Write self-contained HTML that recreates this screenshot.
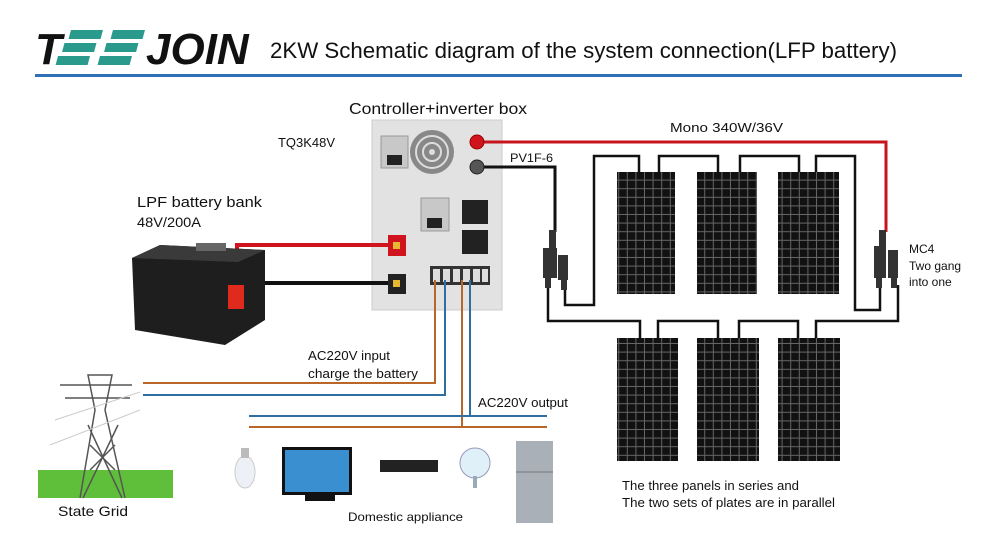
<!DOCTYPE html>
<html><head><meta charset="utf-8"><style>
body{margin:0;background:#fff}
svg{display:block}
text{font-family:"Liberation Sans",sans-serif;fill:#111}
</style></head><body>
<svg width="1000" height="544" viewBox="0 0 1000 544" xmlns="http://www.w3.org/2000/svg">
<defs>
<pattern id="cells" width="8.6" height="8.6" patternUnits="userSpaceOnUse">
<rect width="8.6" height="8.6" fill="#111"/>
<rect x="7.6" width="1" height="8.6" fill="#666"/>
<rect y="7.6" width="8.6" height="1" fill="#666"/>
</pattern>
</defs>
<!-- logo -->
<text x="35" y="64" font-size="44" font-weight="bold" font-style="italic" fill="#111">T</text>
<g transform="skewX(-15)">
<rect x="79" y="30" width="32" height="9" fill="#2a9a8c"/><rect x="76" y="43" width="32" height="9" fill="#2a9a8c"/><rect x="73" y="56" width="32" height="9" fill="#2a9a8c"/>
<rect x="121" y="30" width="32" height="9" fill="#2a9a8c"/><rect x="118" y="43" width="32" height="9" fill="#2a9a8c"/><rect x="115" y="56" width="32" height="9" fill="#2a9a8c"/>
</g>
<text x="146" y="64" font-size="44" font-weight="bold" font-style="italic" fill="#111">JOIN</text>
<text x="270" y="58" font-size="22" textLength="627" lengthAdjust="spacingAndGlyphs">2KW Schematic diagram of the system connection(LFP battery)</text>
<rect x="35" y="74" width="927" height="3" fill="#2e6fb5"/>

<!-- labels -->
<text x="349" y="114" font-size="16" textLength="178" lengthAdjust="spacingAndGlyphs">Controller+inverter box</text>
<text x="278" y="147" font-size="13" textLength="57" lengthAdjust="spacingAndGlyphs">TQ3K48V</text>
<text x="137" y="207" font-size="15" textLength="125" lengthAdjust="spacingAndGlyphs">LPF battery bank</text>
<text x="137" y="227" font-size="14" textLength="64" lengthAdjust="spacingAndGlyphs">48V/200A</text>
<text x="670" y="132" font-size="13" textLength="113" lengthAdjust="spacingAndGlyphs">Mono 340W/36V</text>
<text x="510" y="162" font-size="12" textLength="43" lengthAdjust="spacingAndGlyphs">PV1F-6</text>
<text x="909" y="253" font-size="12">MC4</text>
<text x="909" y="270" font-size="12">Two gang</text>
<text x="909" y="286" font-size="12">into one</text>
<text x="308" y="360" font-size="13" textLength="82" lengthAdjust="spacingAndGlyphs">AC220V input</text>
<text x="308" y="378" font-size="13" textLength="110" lengthAdjust="spacingAndGlyphs">charge the battery</text>
<text x="478" y="407" font-size="13" textLength="90" lengthAdjust="spacingAndGlyphs">AC220V output</text>
<text x="58" y="516" font-size="14" textLength="70" lengthAdjust="spacingAndGlyphs">State Grid</text>
<text x="348" y="521" font-size="12" textLength="115" lengthAdjust="spacingAndGlyphs">Domestic appliance</text>
<text x="622" y="490" font-size="13" textLength="177" lengthAdjust="spacingAndGlyphs">The three panels in series and</text>
<text x="622" y="507" font-size="13" textLength="213" lengthAdjust="spacingAndGlyphs">The two sets of plates are in parallel</text>

<!-- box -->
<rect x="372" y="120" width="130" height="190" fill="#e2e2e2" stroke="#ccc"/>
<rect x="381" y="136" width="27" height="32" fill="#c8c8c8" stroke="#999"/><rect x="387" y="155" width="15" height="10" fill="#222"/>
<rect x="421" y="198" width="28" height="33" fill="#c8c8c8" stroke="#999"/><rect x="427" y="218" width="15" height="10" fill="#222"/>
<circle cx="432" cy="152" r="22" fill="#888"/><circle cx="432" cy="152" r="16" fill="none" stroke="#ddd" stroke-width="2"/><circle cx="432" cy="152" r="9" fill="none" stroke="#ddd" stroke-width="2"/><circle cx="432" cy="152" r="3" fill="#ddd"/>
<rect x="462" y="200" width="26" height="24" fill="#222"/><rect x="462" y="230" width="26" height="24" fill="#222"/>
<rect x="430" y="266" width="60" height="19" fill="#333"/>
<g fill="#ddd"><rect x="433" y="269" width="7" height="13"/><rect x="443" y="269" width="7" height="13"/><rect x="453" y="269" width="7" height="13"/><rect x="463" y="269" width="7" height="13"/><rect x="473" y="269" width="7" height="13"/><rect x="482" y="269" width="6" height="13"/></g>
<!-- wires -->
<polyline points="477,142 886,142 886,232" fill="none" stroke="#c8141e" stroke-width="3"/>
<polyline points="477,167 555,167 555,232" fill="none" stroke="#111" stroke-width="3"/>
<polyline points="237,300 237,245 392,245" fill="none" stroke="#d0141e" stroke-width="4"/>
<line x1="262" y1="283" x2="392" y2="283" stroke="#111" stroke-width="4"/>
<rect x="388" y="235" width="18" height="21" fill="#d0141e"/><rect x="393" y="242" width="7" height="7" fill="#e8b830"/>
<rect x="388" y="274" width="18" height="20" fill="#222"/><rect x="393" y="280" width="7" height="7" fill="#e8b830"/>
<circle cx="477" cy="142" r="7" fill="#d0141e" stroke="#900"/>
<circle cx="477" cy="167" r="7" fill="#555" stroke="#222"/>
<!-- battery -->
<polygon points="132,258 160,245 265,250 265,320 225,345 135,330" fill="#1e1e1e"/>
<polygon points="132,258 160,245 265,250 238,262" fill="#3a3a3a"/>
<rect x="196" y="243" width="30" height="8" fill="#666"/>
<rect x="228" y="285" width="16" height="24" fill="#e02a1e"/>
<!-- AC -->
<g fill="none" stroke-width="2">
<polyline points="435,280 435,383 143,383" stroke="#b8662a"/>
<polyline points="445,280 445,395 143,395" stroke="#2f6ea0"/>
<polyline points="462,280 462,427" stroke="#b8662a"/>
<polyline points="470,280 470,416" stroke="#2f6ea0"/>
<line x1="249" y1="416" x2="547" y2="416" stroke="#2f6ea0"/>
<line x1="249" y1="427" x2="547" y2="427" stroke="#b8662a"/>
</g>
<!-- PV links -->
<g fill="none" stroke="#111" stroke-width="2.5">
<polyline points="565,285 565,305 594,305 594,156 639,156 639,172"/>
<polyline points="659,172 659,156 718,156 718,172"/>
<polyline points="740,172 740,156 799,156 799,172"/>
<polyline points="816,172 816,156 855,156 855,310 880,310 880,285"/>
<polyline points="548,285 548,321 640,321 640,338"/>
<polyline points="658,338 658,321 718,321 718,338"/>
<polyline points="739,338 739,321 798,321 798,338"/>
<polyline points="816,338 816,321 898,321 898,285"/>
</g>
<!-- MC4 -->
<g fill="#333">
<rect x="549" y="230" width="7" height="20"/><rect x="543" y="248" width="14" height="30"/><rect x="558" y="255" width="10" height="25"/>
<rect x="545" y="276" width="6" height="12"/><rect x="561" y="278" width="6" height="12"/>
<rect x="879" y="230" width="7" height="20"/><rect x="874" y="246" width="12" height="32"/><rect x="888" y="250" width="10" height="28"/>
<rect x="876" y="276" width="6" height="12"/><rect x="891" y="276" width="6" height="12"/>
</g>
<!-- panels -->
<rect x="617" y="172" width="58" height="122" fill="url(#cells)"/>
<rect x="697" y="172" width="60" height="122" fill="url(#cells)"/>
<rect x="778" y="172" width="61" height="122" fill="url(#cells)"/>
<rect x="617" y="338" width="61" height="123" fill="url(#cells)"/>
<rect x="697" y="338" width="62" height="123" fill="url(#cells)"/>
<rect x="778" y="338" width="62" height="123" fill="url(#cells)"/>
<!-- tower -->
<rect x="38" y="470" width="135" height="28" fill="#5fbf3a"/>
<g fill="none" stroke="#555" stroke-width="1.5">
<polyline points="80,498 95,410 88,375 112,375 105,410 125,498"/>
<line x1="60" y1="385" x2="132" y2="385"/><line x1="65" y1="398" x2="130" y2="398"/>
<line x1="83" y1="498" x2="118" y2="425"/><line x1="122" y1="498" x2="88" y2="425"/>
<line x1="90" y1="470" x2="115" y2="445"/><line x1="115" y1="470" x2="90" y2="445"/>
</g>
<g fill="none" stroke="#ccc"><line x1="55" y1="420" x2="140" y2="392"/><line x1="50" y1="445" x2="140" y2="410"/></g>
<!-- appliances -->
<ellipse cx="245" cy="472" rx="10" ry="16" fill="#eef0f8" stroke="#ccc"/><rect x="241" y="448" width="8" height="10" fill="#bbb"/>
<rect x="282" y="447" width="70" height="48" fill="#111"/><rect x="285" y="450" width="64" height="42" fill="#3a8fd0"/><rect x="305" y="495" width="30" height="6" fill="#111"/>
<rect x="380" y="460" width="58" height="12" fill="#222"/>
<circle cx="475" cy="463" r="15" fill="#dff0f8" stroke="#99b"/><rect x="473" y="476" width="4" height="12" fill="#9ab"/>
<rect x="516" y="441" width="37" height="82" fill="#aab0b8"/><line x1="516" y1="472" x2="553" y2="472" stroke="#777"/>
</svg>
</body></html>
